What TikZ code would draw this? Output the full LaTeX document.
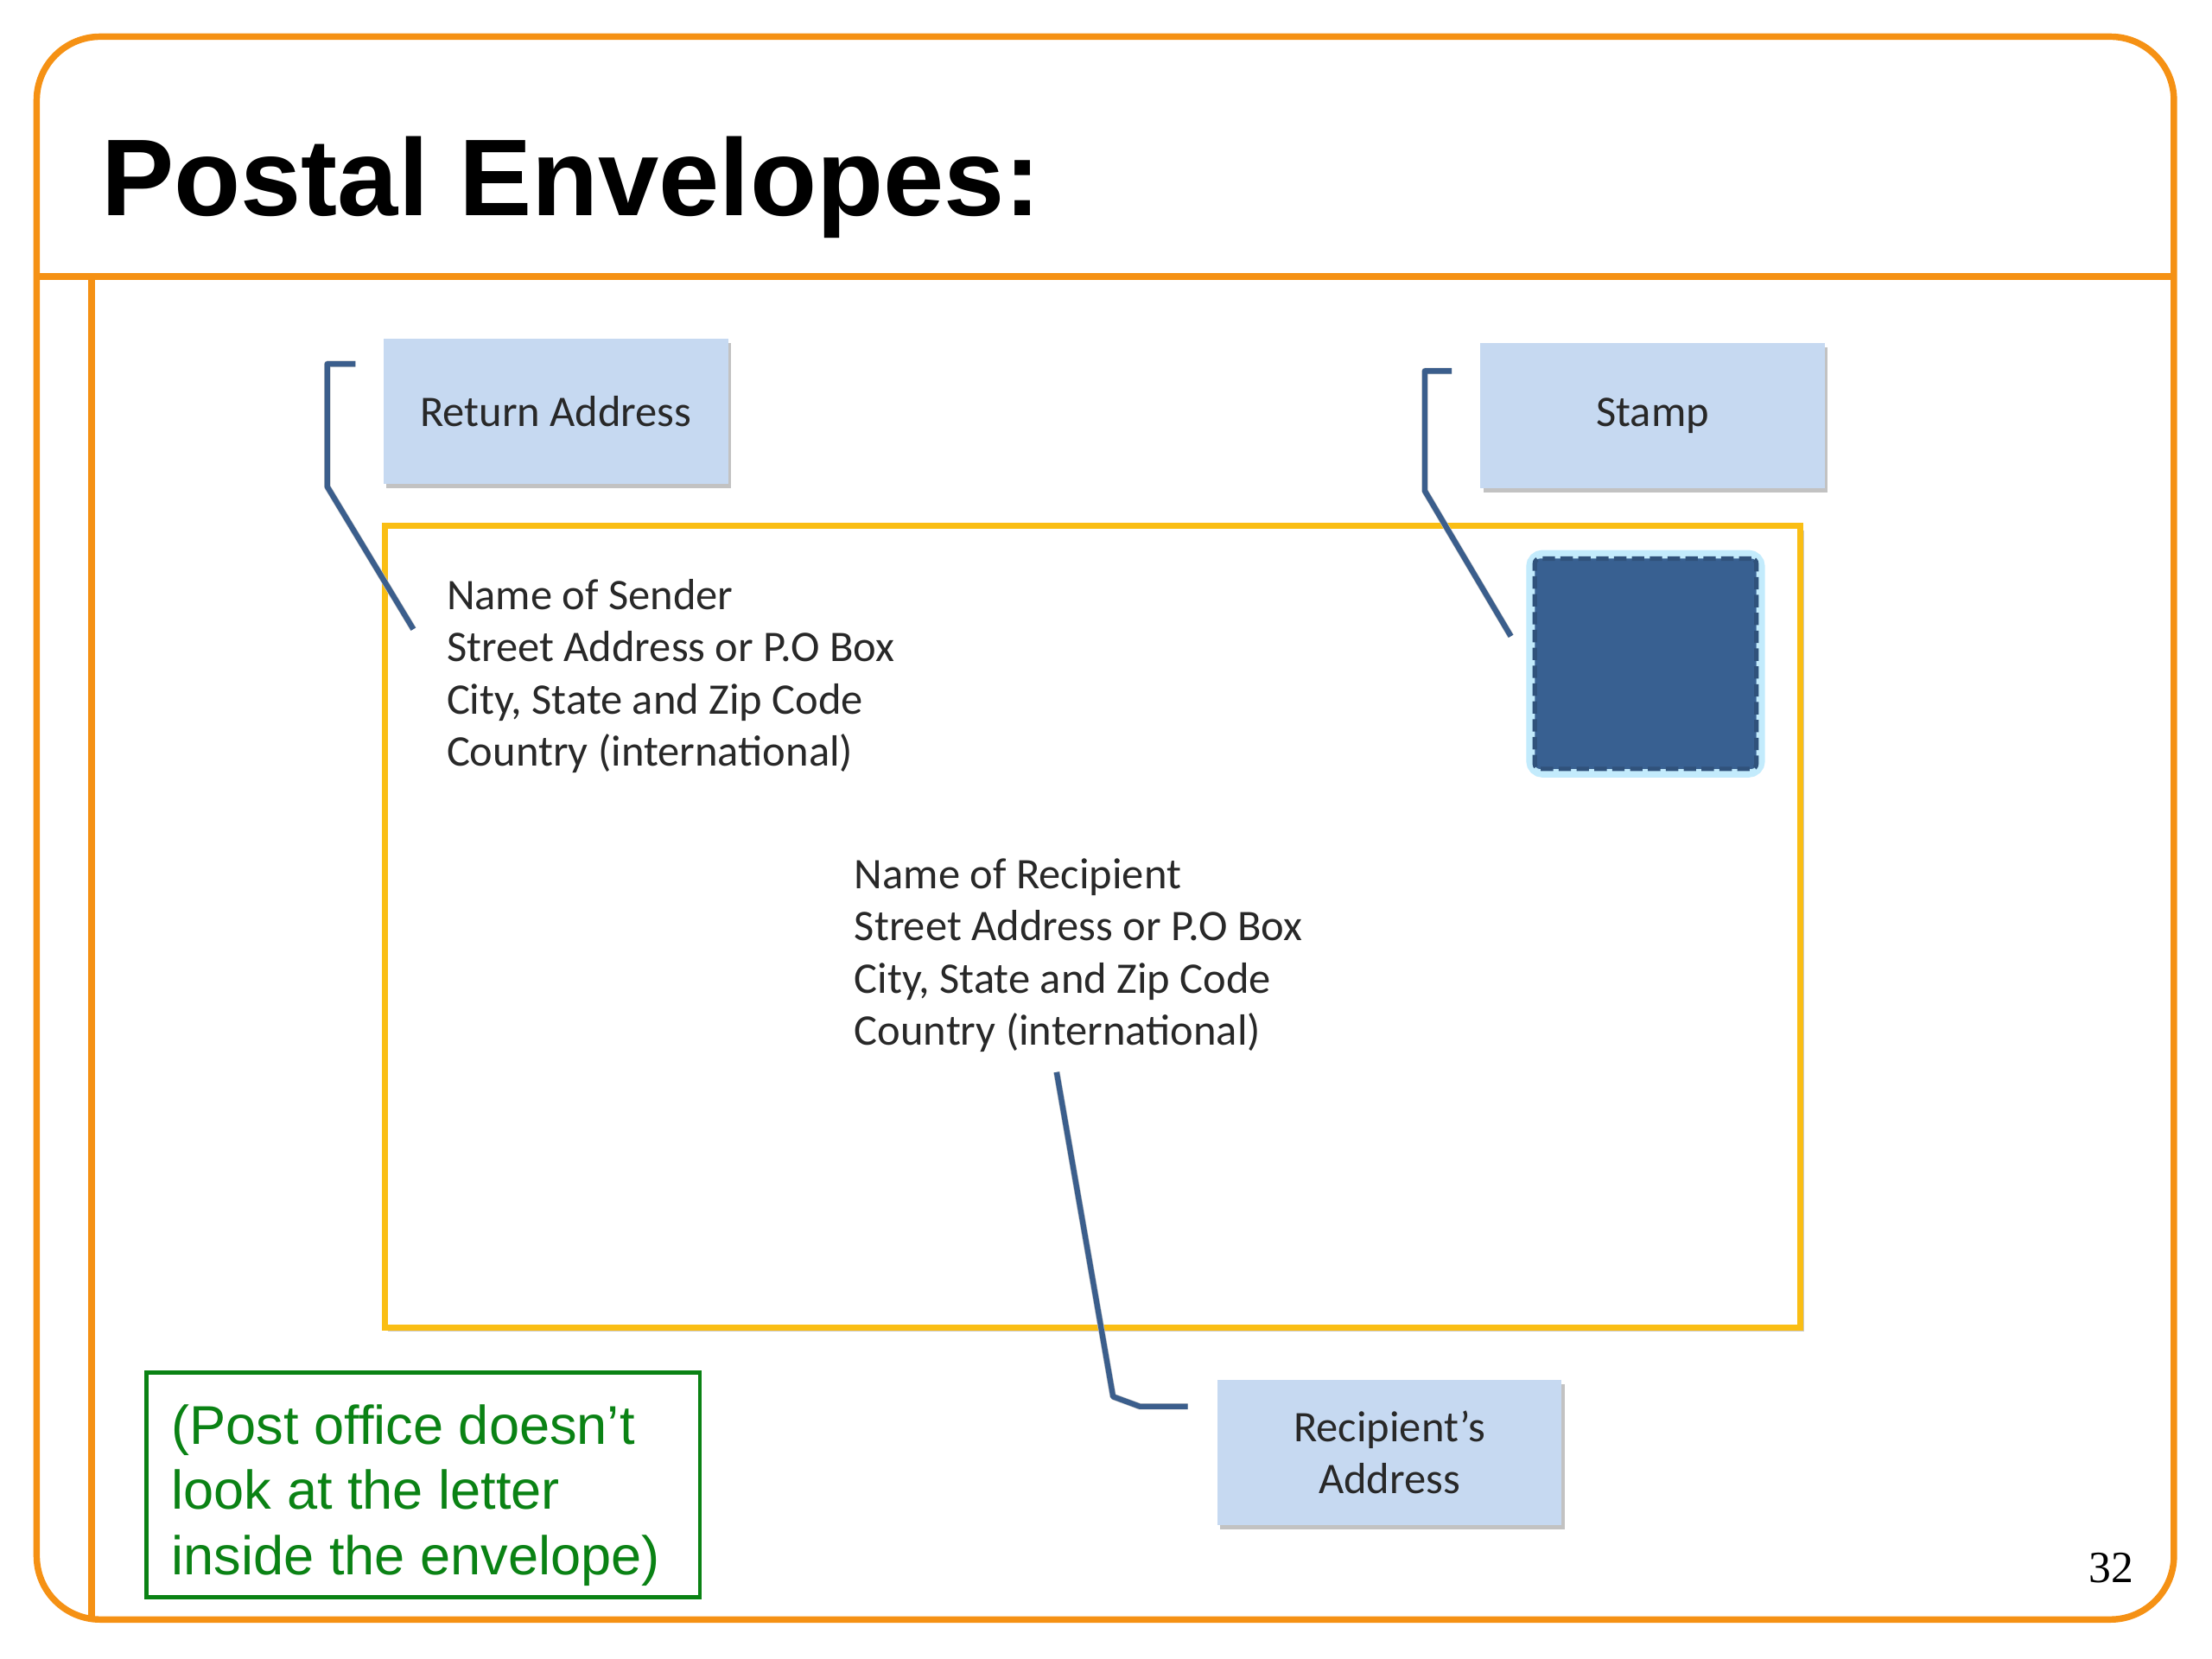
\documentclass[tikz,border=0pt]{standalone}
\usepackage{fontspec}
\setmainfont{Carlito}
\newfontfamily\helv{Liberation Sans}
\newfontfamily\timesf{Liberation Serif}
\usetikzlibrary{shadows}
\definecolor{frameorange}{RGB}{245,145,20}
\definecolor{envyellow}{RGB}{250,190,20}
\definecolor{boxblue}{RGB}{198,217,241}
\definecolor{linkblue}{RGB}{59,94,140}
\definecolor{stampblue}{RGB}{56,96,145}
\definecolor{glowcyan}{RGB}{185,232,252}
\definecolor{notegreen}{RGB}{10,130,20}
\definecolor{textgray}{RGB}{40,40,40}
\tikzset{
  frameline/.style={draw=frameorange, line width=1.3pt},
  labelbox/.style={rectangle, fill=boxblue, inner sep=0pt, minimum width=2.44cm, minimum height=1.03cm,
    align=center, text=textgray, font=\fontsize{8.8}{10.5}\selectfont,
    drop shadow={shadow xshift=0.02cm, shadow yshift=-0.03cm, fill=black!40, opacity=0.6}},
  addr/.style={anchor=base west, inner sep=0pt, text=textgray, font=\fontsize{8.8}{10.5}\selectfont},
  link/.style={draw=linkblue, line width=1.1pt, line join=round},
  linkshadow/.style={draw=black!20, line width=1.3pt, line join=round},
  notetext/.style={anchor=base west, inner sep=0pt, text=notegreen, font=\helv\fontsize{11}{13.1}\selectfont},
}
\begin{document}
\begin{tikzpicture}[x=0.01cm, y=-0.01cm]
\useasboundingbox (0,0) rectangle (1568,1176);
% slide frame
\draw[frameline, rounded corners=4.5mm] (26,26) rectangle (1541,1148);
\draw[frameline] (26,196) -- (1541,196);
\draw[frameline] (65,196) -- (65,1148);
\node[anchor=base west, inner sep=0pt, font=\helv\bfseries\fontsize{22}{26}\selectfont] (title) at (71,153) {Postal Envelopes:};

% envelope
\node[draw=envyellow, line width=1.3pt, fill=white, minimum width=10.03cm, minimum height=5.68cm, inner sep=0pt,
  drop shadow={shadow xshift=0.025cm, shadow yshift=-0.03cm, fill=black!35, opacity=0.6}] (env) at (774.5,657) {};

% stamp
\node[draw=glowcyan, line width=2.6pt, rounded corners=2pt, minimum width=1.60cm, minimum height=1.52cm, inner sep=0pt, opacity=0.85] (stampglow) at (1166.5,470.5) {};
\node[fill=stampblue, draw=stampblue!85!black, line width=0.9pt, dash pattern=on 2.5pt off 1.1pt, rounded corners=1pt,
  minimum width=1.57cm, minimum height=1.49cm, inner sep=0pt] (stamp) at (1166.5,470.5) {};

% sender address
\node[addr] (s1) at (316,432) {Name of Sender};
\node[addr] (s2) at (316,469) {Street Address or P.O Box};
\node[addr] (s3) at (316,506) {City, State and Zip Code};
\node[addr] (s4) at (316,543) {Country (international)};

% recipient address
\node[addr] (r1) at (605,630) {Name of Recipient};
\node[addr] (r2) at (605,667) {Street Address or P.O Box};
\node[addr] (r3) at (605,704) {City, State and Zip Code};
\node[addr] (r4) at (605,741) {Country (international)};

% label boxes
\node[labelbox] (retbox) at (394,291.5) {Return Address};
\node[labelbox] (stampbox) at (1171.5,294.5) {Stamp};
\node[labelbox] (recbox) at (985,1029.5) {Recipient’s\\Address};

% connector coordinates
\coordinate (ra0) at (252,258);
\coordinate (ra1) at (232,258);
\coordinate (ra2) at (232,345);
\coordinate (ra3) at (293,446);
\coordinate (sa0) at (1029,263);
\coordinate (sa1) at (1010,263);
\coordinate (sa2) at (1010,348);
\coordinate (sa3) at (1071,451);
\coordinate (rc0) at (749,760);
\coordinate (rc1) at (789,990);
\coordinate (rc2) at (808,997);
\coordinate (rc3) at (842,997);

\begin{scope}[shift={(2,3)}]
\draw[linkshadow] (ra0) -- (ra1) -- (ra2) -- (ra3);
\draw[linkshadow] (sa0) -- (sa1) -- (sa2) -- (sa3);
\draw[linkshadow] (rc0) -- (rc1) -- (rc2) -- (rc3);
\end{scope}
\draw[link] (ra0) -- (ra1) -- (ra2) -- (ra3);
\draw[link] (sa0) -- (sa1) -- (sa2) -- (sa3);
\draw[link] (rc0) -- (rc1) -- (rc2) -- (rc3);

% note
\node[draw=notegreen, line width=0.8pt, minimum width=3.92cm, minimum height=1.59cm, inner sep=0pt] (notebox) at (300,1052.5) {};
\node[notetext] (note1) at (121,1024) {(Post office doesn’t};
\node[notetext] (note2) at (121,1070) {look at the letter};
\node[notetext] (note3) at (121,1116) {inside the envelope)};

% page number
\node[anchor=base east, inner sep=0pt, font=\timesf\fontsize{9}{11}\selectfont] (pagenum) at (1513,1122) {32};
\end{tikzpicture}
\end{document}
